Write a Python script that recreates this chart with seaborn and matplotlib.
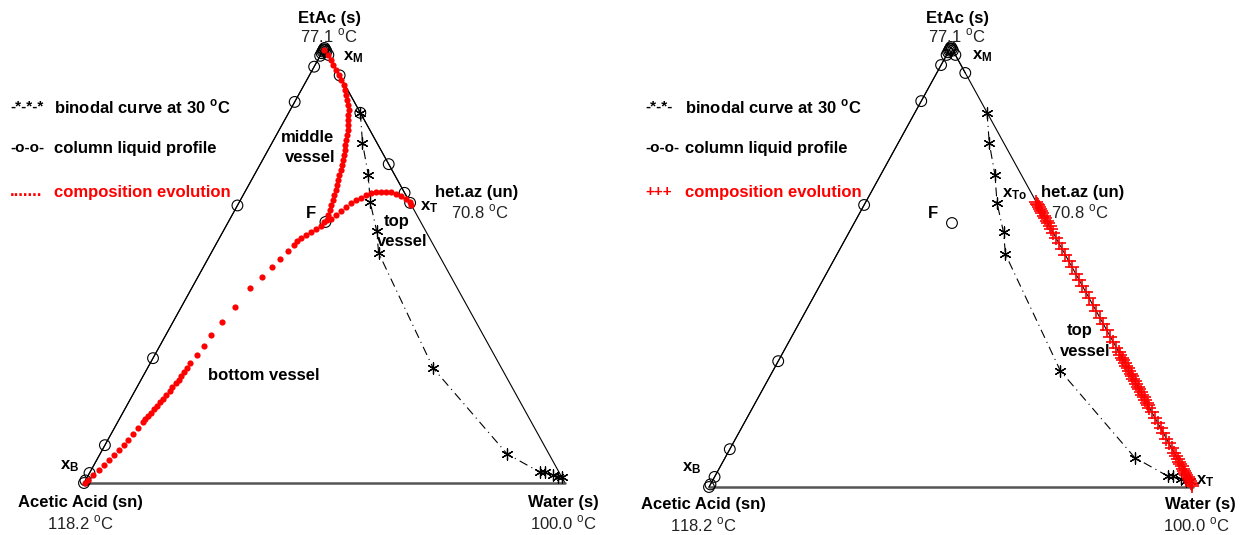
import numpy as np
import pandas as pd
import seaborn as sns
import matplotlib
matplotlib.use("Agg")
import matplotlib.pyplot as plt

sns.set_style("white")
plt.rcParams['font.family'] = ['Liberation Sans Narrow', 'Liberation Sans', 'DejaVu Sans']
plt.rcParams['mathtext.fontset'] = 'custom'
plt.rcParams['mathtext.rm'] = 'Liberation Sans'
plt.rcParams['mathtext.bf'] = 'Liberation Sans:bold'

# compositions: xE = ethyl acetate, xW = water (acetic acid is the rest)
# binodal curve at 30 C
bin_xE = [0.851, 0.782, 0.708, 0.646, 0.579, 0.529, 0.264, 0.067, 0.025, 0.025, 0.018, 0.014, 0.014]
bin_xW = [0.149, 0.188, 0.237, 0.272, 0.319, 0.348, 0.594, 0.846, 0.935, 0.946, 0.966, 0.979, 0.987]

# column liquid profile, left diagram (x_B -> x_M -> x_T)
profL_xE = [0.0, 0.006, 0.023, 0.087, 0.287, 0.638, 0.876, 0.957, 0.982, 0.988, 0.992, 0.995,
            0.997, 1.0, 0.996, 0.992, 0.984, 0.937, 0.851, 0.733, 0.667, 0.644]
profL_xW = [0.0, 0.0, 0.0, 0.0, 0.0, 0.0, 0.0, 0.0, 0.0, 0.0, 0.0, 0.0,
            0.0, 0.0, 0.004, 0.008, 0.016, 0.063, 0.149, 0.267, 0.333, 0.356]
# column liquid profile, right diagram
profR_xE = [0.0, 0.006, 0.023, 0.086, 0.286, 0.641, 0.877, 0.959, 0.982, 0.988, 0.992, 0.995,
            0.997, 1.0, 0.996, 0.992, 0.982, 0.941]
profR_xW = [0.0, 0.0, 0.0, 0.0, 0.0, 0.0, 0.0, 0.0, 0.0, 0.0, 0.0, 0.0,
            0.0, 0.0, 0.004, 0.008, 0.018, 0.059]

feed_xE = [0.600]
feed_xW = [0.202]

# composition evolution, left diagram
mid_xE = [0.995, 0.984, 0.972, 0.961, 0.949, 0.938, 0.926, 0.915, 0.903, 0.892, 0.881, 0.869,
          0.858, 0.846, 0.835, 0.823, 0.812, 0.800, 0.789, 0.777, 0.766, 0.754, 0.743, 0.731,
          0.720, 0.708, 0.697, 0.685, 0.674, 0.662, 0.651, 0.639, 0.628, 0.616, 0.605]
mid_xW = [0.002, 0.015, 0.027, 0.038, 0.050, 0.061, 0.072, 0.083, 0.092, 0.099, 0.107, 0.114,
          0.121, 0.126, 0.132, 0.137, 0.142, 0.146, 0.151, 0.155, 0.159, 0.164, 0.167, 0.171,
          0.174, 0.176, 0.180, 0.184, 0.186, 0.189, 0.192, 0.195, 0.198, 0.200, 0.203]
top_xE = [0.600, 0.607, 0.617, 0.625, 0.635, 0.644, 0.651, 0.656, 0.661, 0.666, 0.668, 0.669,
          0.669, 0.668, 0.664, 0.660, 0.654, 0.647, 0.640]
top_xW = [0.200, 0.210, 0.215, 0.222, 0.227, 0.233, 0.240, 0.248, 0.256, 0.264, 0.273, 0.283,
          0.293, 0.304, 0.316, 0.329, 0.342, 0.354, 0.360]
bot_xE = [0.591, 0.584, 0.577, 0.570, 0.563, 0.556, 0.547, 0.533, 0.515, 0.497, 0.474, 0.448,
          0.405, 0.370, 0.340, 0.315, 0.294, 0.276, 0.264, 0.255, 0.246, 0.237, 0.229, 0.221,
          0.212, 0.202, 0.194, 0.186, 0.178, 0.170, 0.162, 0.154, 0.146, 0.140, 0.126, 0.113,
          0.099, 0.087, 0.076, 0.064, 0.053, 0.041, 0.030, 0.018, 0.007, 0.000]
bot_xW = [0.197, 0.190, 0.183, 0.176, 0.169, 0.164, 0.163, 0.157, 0.150, 0.142, 0.133, 0.122,
          0.111, 0.101, 0.095, 0.091, 0.087, 0.083, 0.083, 0.081, 0.079, 0.078, 0.076, 0.073,
          0.072, 0.070, 0.068, 0.066, 0.063, 0.061, 0.059, 0.057, 0.054, 0.053, 0.050, 0.046,
          0.042, 0.040, 0.035, 0.030, 0.026, 0.021, 0.016, 0.010, 0.005, 0.002]

# composition evolution, right diagram (top vessel along the EtAc-water edge)
plus_xE = [0.648, 0.644, 0.640, 0.636, 0.632, 0.627, 0.622, 0.617, 0.611, 0.605, 0.599, 0.593,
           0.587, 0.577, 0.566, 0.554, 0.541, 0.527, 0.513, 0.499, 0.485, 0.471, 0.457, 0.443,
           0.429, 0.414, 0.399, 0.384, 0.370, 0.356, 0.342, 0.329, 0.317, 0.306, 0.300, 0.294,
           0.288, 0.282, 0.276, 0.270, 0.264, 0.258, 0.252, 0.246, 0.240, 0.234, 0.228, 0.222,
           0.216, 0.210, 0.204, 0.198, 0.192, 0.186, 0.180, 0.170, 0.158, 0.146, 0.134, 0.122,
           0.110, 0.099, 0.088, 0.078, 0.070, 0.064, 0.058, 0.052, 0.047, 0.042, 0.037, 0.032,
           0.027, 0.022, 0.018, 0.014, 0.010, 0.006, 0.003]
plus_xW = [1 - v for v in plus_xE]


def tern(xe, xw):
    xe = np.asarray(xe, dtype=float)
    xw = np.asarray(xw, dtype=float)
    return xw + 0.5 * xe, xe


W, H = 1242, 535
fig = plt.figure(figsize=(W / 100, H / 100), dpi=100)
axL = fig.add_axes([0, 0, 0.5, 1])
axR = fig.add_axes([0.5, 0, 0.5, 1])
axL.set_xlim(-0.1746, 1.1164)
axL.set_ylim(-0.1195, 1.1103)
axR.set_xlim(-0.1818, 1.1012)
axR.set_ylim(-0.109, 1.1068)

for ax in (axL, axR):
    ax.axis('off')
    ax.plot([0, 0.5, 1], [0, 1, 0], color='black', lw=0.8, zorder=1)
    ax.plot([0, 1], [0, 0], color='#555555', lw=1.8, zorder=1)
    bx, by = tern(bin_xE, bin_xW)
    ax.plot(bx, by, color='black', lw=0.8, dashes=(8, 4, 1, 4), zorder=2)
    sns.scatterplot(x=bx, y=by, ax=ax, marker=(6, 2, 0), color='black', s=65,
                    linewidth=0.9, zorder=3, legend=False)
    fx, fy = tern(feed_xE, feed_xW)
    sns.scatterplot(x=fx, y=fy, ax=ax, marker='o', facecolor='none', edgecolor='black',
                    s=60, linewidth=0.8, zorder=3, legend=False)

# left diagram
px_, py_ = tern(profL_xE, profL_xW)
axL.plot(px_, py_, color='black', lw=0.8, zorder=2)
sns.scatterplot(x=px_, y=py_, ax=axL, marker='o', facecolor='none', edgecolor='black',
                s=60, linewidth=0.8, zorder=3, legend=False)
for xe, xw in ((mid_xE, mid_xW), (top_xE, top_xW), (bot_xE, bot_xW)):
    rx, ry = tern(xe, xw)
    sns.scatterplot(x=rx, y=ry, ax=axL, marker='o', color='#ff0000', s=20,
                    linewidth=0, zorder=4, legend=False)

# right diagram
px_, py_ = tern(profR_xE, profR_xW)
axR.plot(px_, py_, color='black', lw=0.8, zorder=2)
sns.scatterplot(x=px_, y=py_, ax=axR, marker='o', facecolor='none', edgecolor='black',
                s=60, linewidth=0.8, zorder=3, legend=False)
rx, ry = tern(plus_xE, plus_xW)
sns.scatterplot(x=rx, y=ry, ax=axR, marker='+', color='#ff0000', s=95,
                linewidth=1.2, zorder=4, legend=False)


def put(x, y, s, ha='center', bold=True, color='black', size=12):
    fig.text(x / W, 1 - y / H, s, ha=ha, va='center', color=color, fontsize=size,
             fontweight='bold' if bold else 'normal')


deg = r"$^{\mathrm{o}}$C"
degb = r"$^{\mathbf{o}}$C"

# left labels
put(329, 19, "EtAc (s)")
put(329, 36, "77.1 " + deg, bold=False, color='#222222')
put(343, 57, r"$\mathbf{x_M}$", ha='left', size=12)
put(308, 137, "middle")
put(310, 158, "vessel")
put(311, 213, "F")
put(397, 221, "top")
put(402, 241, "vessel")
put(420, 207, r"$\mathbf{x_T}$", ha='left', size=12)
put(477, 193, "het.az (un)")
put(480, 212, "70.8 " + deg, bold=False, color='#222222')
put(264, 375, "bottom vessel")
put(60, 466, r"$\mathbf{x_B}$", ha='left', size=12)
put(80, 503, "Acetic Acid (sn)")
put(80, 523, "118.2 " + deg, bold=False, color='#222222')
put(563, 503, "Water (s)")
put(563, 523, "100.0 " + deg, bold=False, color='#222222')
put(10, 107, "-*-*-*", ha='left', size=11)
put(54, 107, "binodal curve at 30 " + degb, ha='left')
put(10, 148, "-o-o-", ha='left', size=11)
put(54, 148, "column liquid profile", ha='left')
put(10, 192, ".......", ha='left', color='#ff0000')
put(54, 192, "composition evolution", ha='left', color='#ff0000')

# right labels
put(957, 19, "EtAc (s)")
put(957, 36, "77.1 " + deg, bold=False, color='#222222')
put(972, 56, r"$\mathbf{x_M}$", ha='left', size=12)
put(1002, 194, r"$\mathbf{x_{To}}$", ha='left', size=12)
put(1041, 193, "het.az (un)", ha='left')
put(1080, 212, "70.8 " + deg, bold=False, color='#222222')
put(933, 213, "F")
put(1080, 330, "top")
put(1085, 351, "vessel")
put(682, 468, r"$\mathbf{x_B}$", ha='left', size=12)
put(1196, 481, r"$\mathbf{x_T}$", ha='left', size=12)
put(703, 505, "Acetic Acid (sn)")
put(703, 525, "118.2 " + deg, bold=False, color='#222222')
put(1200, 505, "Water (s)")
put(1196, 525, "100.0 " + deg, bold=False, color='#222222')
put(645, 107, "-*-*-", ha='left', size=11)
put(685, 107, "binodal curve at 30 " + degb, ha='left')
put(645, 148, "-o-o-", ha='left', size=11)
put(685, 148, "column liquid profile", ha='left')
put(645, 192, "+++", ha='left', color='#ff0000', size=11)
put(685, 192, "composition evolution", ha='left', color='#ff0000')

fig.savefig('out.png', dpi=100, facecolor='white')
